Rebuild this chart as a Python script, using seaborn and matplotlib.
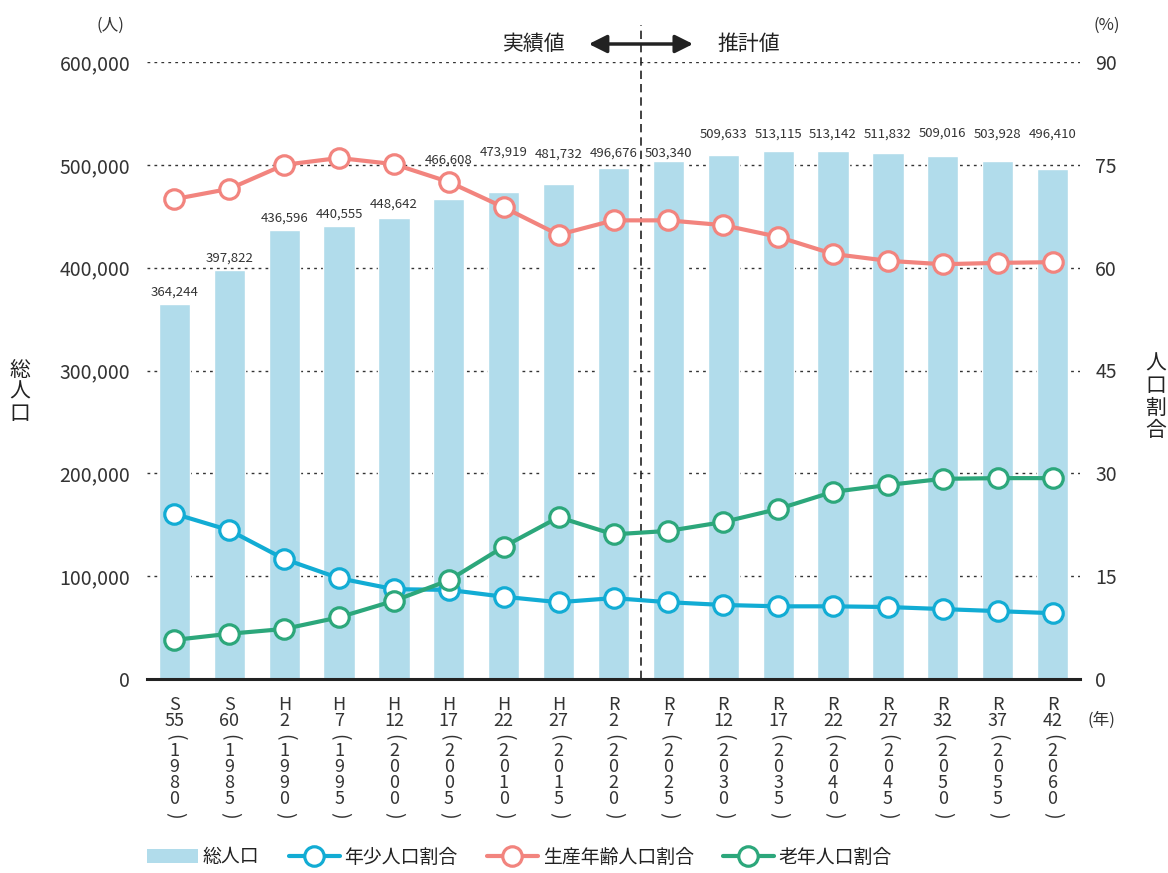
import numpy as np
import pandas as pd
import matplotlib
matplotlib.use("Agg")
import matplotlib.pyplot as plt
import matplotlib.transforms as mtransforms
from matplotlib.patches import Patch
from matplotlib.lines import Line2D
import seaborn as sns

# ---------------- data ----------------
eras = ["S", "S", "H", "H", "H", "H", "H", "H", "R", "R", "R", "R", "R", "R", "R", "R", "R"]
era_years = ["55", "60", "2", "7", "12", "17", "22", "27", "2", "7", "12", "17", "22", "27", "32", "37", "42"]
years = [1980, 1985, 1990, 1995, 2000, 2005, 2010, 2015, 2020, 2025, 2030, 2035, 2040, 2045, 2050, 2055, 2060]
total_pop = [364244, 397822, 436596, 440555, 448642, 466608, 473919, 481732, 496676,
             503340, 509633, 513115, 513142, 511832, 509016, 503928, 496410]
young_pct = [24.1, 21.7, 17.5, 14.7, 13.1, 13.0, 12.0, 11.2, 11.8,
             11.2, 10.8, 10.6, 10.6, 10.5, 10.2, 9.9, 9.6]
working_pct = [70.0, 71.5, 75.0, 76.0, 75.1, 72.5, 68.8, 64.8, 66.9,
               66.9, 66.2, 64.5, 62.0, 61.0, 60.5, 60.7, 60.8]
elderly_pct = [5.7, 6.6, 7.3, 9.0, 11.4, 14.4, 19.3, 23.6, 21.1,
               21.6, 22.9, 24.8, 27.3, 28.3, 29.2, 29.3, 29.3]
left_ticks = [0, 100000, 200000, 300000, 400000, 500000, 600000]
right_ticks = [0, 15, 30, 45, 60, 75, 90]
series_names = ["総人口", "年少人口割合", "生産年齢人口割合", "老年人口割合"]

# layout only: vertical offset (pixels) of each value label above its bar top
label_offsets_px = [12, 12, 12, 12, 14, 39, 40, 29, 15, 8, 21, 17, 17, 19, 22, 27, 34]

# ---------------- style ----------------
sns.set_theme(style="white")
plt.rcParams["font.family"] = ["Noto Sans CJK JP", "DejaVu Sans"]
text_color = "#333333"

bar_color = "#b1dceb"
c_young = "#12acd4"
c_work = "#f2847e"
c_old = "#2ca77b"

W, H = 1168, 873
fig = plt.figure(figsize=(W / 100, H / 100), dpi=100)
ax_left, ax_right = 147 / W, 1080 / W
ax_bot, ax_top = 1 - 679 / H, 1 - 62 / H
ax = fig.add_axes([ax_left, ax_bot, ax_right - ax_left, ax_top - ax_bot])

n = len(total_pop)
pos = np.arange(n)
df = pd.DataFrame({"pos": pos, "total": total_pop})

sns.barplot(data=df, x="pos", y="total", color=bar_color, saturation=1,
            width=0.57, ax=ax, zorder=2)
ax.set_xlim(-0.5, n - 0.5)
ax.set_ylim(0, 600000)
ax.set_yticks(left_ticks)
ax.set_yticklabels([f"{v:,}" for v in left_ticks], fontsize=14, color=text_color)
ax.yaxis.grid(True, linestyle=(0, (2, 3)), color="#333333", linewidth=1.0, zorder=0)
ax.set_axisbelow(True)
ax.xaxis.grid(False)
for s in ["top", "left", "right"]:
    ax.spines[s].set_visible(False)
ax.spines["bottom"].set_color("#222222")
ax.spines["bottom"].set_linewidth(2.2)
ax.tick_params(axis="y", length=0, pad=12)
ax.tick_params(axis="x", length=0, pad=12)
ax.set_xlabel("")
ax.set_ylabel("")

# category labels: era + era year as tick labels, western year stacked vertically below
ax.set_xticks(pos)
ax.set_xticklabels([f"{e}\n{ey}" for e, ey in zip(eras, era_years)],
                   fontsize=13, color=text_color, linespacing=0.9)
trans_x = mtransforms.blended_transform_factory(ax.transData, ax.transAxes)
for i, y in enumerate(years):
    ax.annotate("(", xy=(i, 0), xycoords=trans_x, xytext=(0, -58),
                textcoords="offset pixels", rotation=-90, ha="center", va="center",
                fontsize=14, color=text_color, annotation_clip=False)
    ax.annotate("\n".join(str(y)), xy=(i, 0), xycoords=trans_x, xytext=(0, -96),
                textcoords="offset pixels", ha="center", va="center", fontsize=13,
                linespacing=0.86, color=text_color, annotation_clip=False)
    ax.annotate(")", xy=(i, 0), xycoords=trans_x, xytext=(0, -136),
                textcoords="offset pixels", rotation=-90, ha="center", va="center",
                fontsize=14, color=text_color, annotation_clip=False)

for i, (v, off) in enumerate(zip(total_pop, label_offsets_px)):
    ax.annotate(f"{v:,}", xy=(i, v), xytext=(0, off), textcoords="offset pixels",
                ha="center", va="center", fontsize=9.5, color=text_color, zorder=5)

# ---------------- right axis lines ----------------
ax2 = ax.twinx()
ax2.set_position(ax.get_position())
lines = [(young_pct, c_young), (working_pct, c_work), (elderly_pct, c_old)]
for vals, col in lines:
    sns.lineplot(x=pos, y=vals, ax=ax2, color=col, linewidth=3.0, marker="o",
                 markersize=14, markerfacecolor="white", markeredgecolor=col,
                 markeredgewidth=2.3, zorder=4)
ax2.set_ylim(0, 90)
ax2.set_xlim(-0.5, n - 0.5)
ax2.set_yticks(right_ticks)
ax2.set_yticklabels([str(v) for v in right_ticks], fontsize=14, color=text_color)
ax2.tick_params(axis="y", length=0, pad=11)
for s in ["top", "left", "right", "bottom"]:
    ax2.spines[s].set_visible(False)
ax2.grid(False)
ax2.set_ylabel("")

# ---------------- divider and arrow ----------------
trans = mtransforms.blended_transform_factory(ax.transData, ax.transAxes)
ax.plot([8.5, 8.5], [0, (679 - 25) / 617], transform=trans, clip_on=False,
        color="#222222", linestyle=(0, (5, 3)), linewidth=1.2, zorder=6)
ya = 1 + 18 / 617
ax.annotate("", xy=(7.55, ya), xytext=(9.45, ya), xycoords=trans, textcoords=trans,
            arrowprops=dict(arrowstyle="<|-|>,head_length=0.9,head_width=0.45",
                            color="#222222", lw=2.5, shrinkA=0, shrinkB=0))
ax.text(6.55, ya, "実績値", transform=trans, ha="center", va="center",
        fontsize=15, color="#222222")
ax.text(10.47, ya, "推計値", transform=trans, ha="center", va="center",
        fontsize=15, color="#222222")

# ---------------- unit labels ----------------
fig.text(110 / W, 1 - 25 / H, "(人)", ha="center", va="center", fontsize=12, color=text_color)
fig.text(1107 / W, 1 - 25 / H, "(%)", ha="center", va="center", fontsize=12, color=text_color)
fig.text(1101 / W, 1 - 720 / H, "(年)", ha="center", va="center", fontsize=12, color=text_color)
fig.text(20 / W, 1 - 392 / H, "総\n人\n口", ha="center", va="center", fontsize=15,
         color="#222222", linespacing=1.0)
fig.text(1156 / W, 1 - 397 / H, "人\n口\n割\n合", ha="center", va="center", fontsize=15,
         color="#222222", linespacing=1.0)

# ---------------- legend ----------------
handles = [Patch(facecolor=bar_color, edgecolor="none")]
for vals, col in lines:
    handles.append(Line2D([0], [0], color=col, linewidth=3.0, marker="o", markersize=14,
                          markerfacecolor="white", markeredgecolor=col, markeredgewidth=2.3))
fig.legend(handles, series_names, loc="center left", bbox_to_anchor=(147 / W, 1 - 857 / H),
           ncol=4, frameon=False, fontsize=13.6, handlelength=2.7, handletextpad=0.25,
           columnspacing=1.55, labelcolor="#222222", borderaxespad=0, borderpad=0)

fig.savefig("out.png", dpi=100)
